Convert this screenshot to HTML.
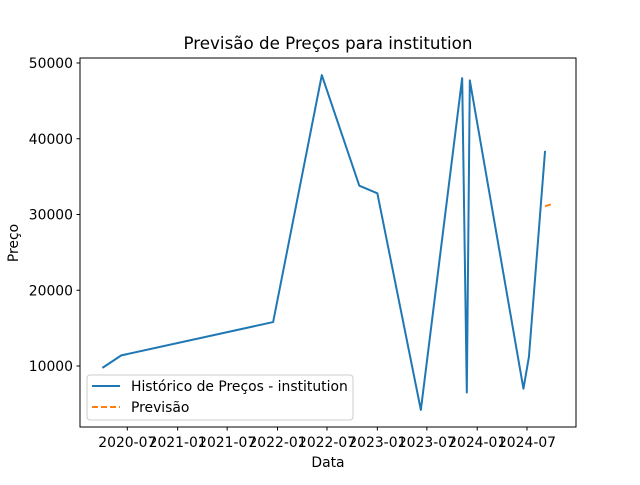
<!DOCTYPE html>
<html><head><meta charset="utf-8"><style>
body{margin:0;background:#fff}
svg{font-family:"DejaVu Sans","Liberation Sans",sans-serif}
</style></head><body>
<svg id="c" width="640" height="480" xmlns="http://www.w3.org/2000/svg">
<rect width="640" height="480" fill="#fff"/>
<text x="328" y="49" font-size="16.7" text-anchor="middle">Previsão de Preços para institution</text>
<text x="0" y="0" font-size="13.9" text-anchor="middle" transform="translate(18,243) rotate(-90)">Preço</text>
<text x="328" y="467" font-size="13.9" text-anchor="middle">Data</text>
<g id="plot"></g>
<rect x="80" y="58" width="496" height="369" fill="none" stroke="#000" stroke-width="1"/>
<g>
<rect x="87" y="375" width="266" height="45" rx="3" fill="#fff" fill-opacity="0.8" stroke="#ccc"/>
<line x1="92" y1="386" x2="120" y2="386" stroke="#1f77b4" stroke-width="2"/>
<text x="131" y="391" font-size="13.9">Histórico de Preços - institution</text>
<line x1="92" y1="407" x2="120" y2="407" stroke="#ff7f0e" stroke-width="2" stroke-dasharray="6,3"/>
<text x="131" y="412" font-size="13.9">Previsão</text>
</g>
</svg>
<script>
const histDates=["2020-04-01","2020-06-09","2021-12-16","2022-06-12","2022-10-27","2023-01-01","2023-06-09","2023-11-07","2023-11-24","2023-12-05","2024-06-18","2024-07-08","2024-09-05"];
const histValues=[9750,11400,15800,48400,33800,32800,4200,48000,6500,47700,7000,11200,38400];
const fcDates=["2024-09-05","2024-10-03"];
const fcValues=[31100,31400];
const yTicks=[10000,20000,30000,40000,50000];
const xTicks=["2020-07","2021-01","2021-07","2022-01","2022-07","2023-01","2023-07","2024-01","2024-07"];
const NS="http://www.w3.org/2000/svg";
const d0=Date.parse("2020-07-01"),d1=Date.parse("2024-07-01");
function xs(d){return 127.3+(Date.parse(d)-d0)/(d1-d0)*(527-127.3);}
function ys(v){return 366-(v-10000)/40000*303;}
const g=document.getElementById("plot");
function mk(t,a){const e=document.createElementNS(NS,t);for(const k in a)e.setAttribute(k,a[k]);g.appendChild(e);return e;}
yTicks.forEach(v=>{const y=ys(v);
 const t=mk("line",{x1:76.5,x2:80,y1:y,y2:y,stroke:"#000"});
 
 
 const l=mk("text",{x:73,y:y+5,"font-size":13.9,"text-anchor":"end"});l.textContent=v;
 
 
});
xTicks.forEach(s=>{const x=xs(s+"-01");
 const t=mk("line",{x1:x,x2:x,y1:427,y2:430.5,stroke:"#000"});
 
 
 const l=mk("text",{x:x,y:447,"font-size":13.9,"text-anchor":"middle"});l.textContent=s;
 
 
});
const hp=mk("polyline",{points:histDates.map((d,i)=>xs(d)+","+ys(histValues[i])).join(" "),fill:"none",stroke:"#1f77b4","stroke-width":2,"stroke-linejoin":"round"});


const fp=mk("polyline",{points:fcDates.map((d,i)=>xs(d)+","+ys(fcValues[i])).join(" "),fill:"none",stroke:"#ff7f0e","stroke-width":2,"stroke-dasharray":"6,3"});


</script>
</body></html>
